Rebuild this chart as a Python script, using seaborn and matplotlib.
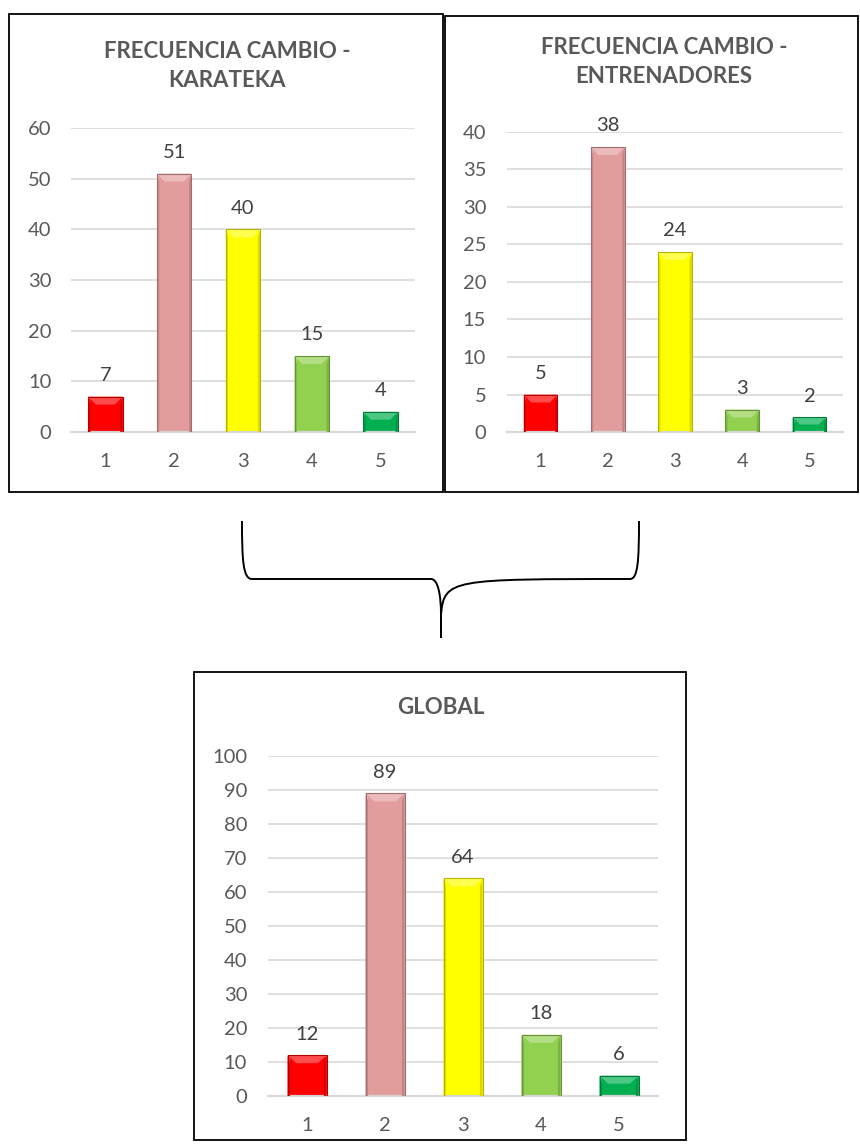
import numpy as np
import pandas as pd
import seaborn as sns
import matplotlib
matplotlib.use("Agg")
import matplotlib.pyplot as plt
from matplotlib.patches import Rectangle, Polygon, PathPatch
from matplotlib.path import Path
from matplotlib.colors import to_rgb

# Response categories and counts
categories = ["1", "2", "3", "4", "5"]
karateka = [7, 51, 40, 15, 4]
entrenadores = [5, 38, 24, 3, 2]
global_total = [12, 89, 64, 18, 6]

titles = ["FRECUENCIA CAMBIO -\nKARATEKA", "FRECUENCIA CAMBIO -\nENTRENADORES", "GLOBAL"]
y_limits = [(0, 60), (0, 40), (0, 100)]
y_steps = [10, 5, 10]

bar_colors = ["#FF0000", "#E39C9C", "#FFFF00", "#92D050", "#00B050"]
TEXT = "#595959"
GRID = "#D9D9D9"

sns.set_theme(style="white")
plt.rcParams["font.family"] = ["Lato", "DejaVu Sans"]

W, H = 860, 1148
fig = plt.figure(figsize=(W / 100, H / 100), dpi=100)

# overlay axes in pixel units for frames and the brace
over = fig.add_axes([0, 0, 1, 1], zorder=-1)
over.set_xlim(0, W)
over.set_ylim(H, 0)
over.axis("off")


def px_axes(x0, y0, x1, y1):
    return fig.add_axes([x0 / W, 1 - y1 / H, (x1 - x0) / W, (y1 - y0) / H])


def shade(c, f):
    r, g, b = to_rgb(c)
    if f >= 0:
        return (r + (1 - r) * f, g + (1 - g) * f, b + (1 - b) * f)
    return (r * (1 + f), g * (1 + f), b * (1 + f))


def bevel(ax, patch, color, ppx):
    # light top facet and darker side facets on each bar
    x, y = patch.get_x(), patch.get_y()
    w, h = patch.get_width(), patch.get_height()
    dx = w * 0.22
    dy = min(8 * ppx, h * 0.5)
    top = y + h
    ax.add_patch(Polygon([(x, top), (x + w, top), (x + w - dx, top - dy), (x + dx, top - dy)],
                         closed=True, facecolor=shade(color, 0.3), edgecolor="none", zorder=3))
    ax.add_patch(Polygon([(x, y), (x, top), (x + dx * 0.3, top - dy), (x + dx * 0.3, y)],
                         closed=True, facecolor=shade(color, -0.12), edgecolor="none", zorder=3))
    ax.add_patch(Polygon([(x + w, y), (x + w, top), (x + w - dx * 0.3, top - dy), (x + w - dx * 0.3, y)],
                         closed=True, facecolor=shade(color, -0.15), edgecolor="none", zorder=3))
    ax.add_patch(Rectangle((x, y), w, h, facecolor="none",
                           edgecolor=shade(color, -0.3), linewidth=0.8, zorder=4))


def draw_panel(rect, values, ylim, step, label_pad):
    ax = px_axes(*rect)
    df = pd.DataFrame({"cat": categories, "val": values})
    sns.barplot(data=df, x="cat", y="val", hue="cat", palette=bar_colors,
                legend=False, width=0.5, ax=ax, zorder=2, saturation=1)
    ax.set_ylim(*ylim)
    ax.set_xlim(-0.5, len(categories) - 0.5)
    ax.set_yticks(np.arange(ylim[0], ylim[1] + 1, step))
    ax.set_xlabel("")
    ax.set_ylabel("")
    for s in ["top", "right", "left"]:
        ax.spines[s].set_visible(False)
    ax.spines["bottom"].set_color(GRID)
    ax.spines["bottom"].set_linewidth(1.6)
    ax.yaxis.grid(True, color=GRID, linewidth=1.2, zorder=0)
    ax.set_axisbelow(True)
    ax.tick_params(axis="both", length=0, colors=TEXT, labelsize=14.5)
    ax.tick_params(axis="y", pad=label_pad)
    ax.tick_params(axis="x", pad=15)
    ppx = (ylim[1] - ylim[0]) / (rect[3] - rect[1])
    for patch, col in zip(ax.patches, bar_colors):
        bevel(ax, patch, col, ppx)
    for cont in ax.containers:
        ax.bar_label(cont, padding=9, color="#404040", fontsize=14.5)
    return ax


# frames around each chart
for (x0, y0, x1, y1) in [(9, 14, 443, 492), (445, 16, 858, 492), (194, 672, 686, 1140)]:
    over.add_patch(Rectangle((x0, y0), x1 - x0, y1 - y0, facecolor="white",
                             edgecolor="black", linewidth=1.3))

draw_panel((71, 128, 415, 432), karateka, y_limits[0], y_steps[0], 14)
draw_panel((507, 132, 843, 432), entrenadores, y_limits[1], y_steps[1], 15)
draw_panel((268, 756, 658, 1096), global_total, y_limits[2], y_steps[2], 15)

title_kw = dict(ha="center", va="center", fontsize=16, fontweight="bold", color=TEXT,
                linespacing=1.45)
over.text(227, 66, titles[0], **title_kw)
over.text(664, 62, titles[1], **title_kw)
over.text(441, 708, titles[2], **title_kw)

# curly brace joining the two upper charts to the global one
verts = [
    (242, 521), (242, 560), (243, 579), (252, 579),
    (431, 579),
    (438, 579), (441, 595), (441, 615),
    (441, 638),
    (441, 615), (444, 579), (451, 579),
    (630, 579),
    (638, 579), (639, 560), (639, 521),
]
codes = [Path.MOVETO, Path.CURVE4, Path.CURVE4, Path.CURVE4,
         Path.LINETO,
         Path.CURVE4, Path.CURVE4, Path.CURVE4,
         Path.LINETO,
         Path.LINETO, Path.CURVE4, Path.CURVE4,
         Path.LINETO,
         Path.CURVE4, Path.CURVE4, Path.CURVE4]
over.add_patch(PathPatch(Path(verts, codes), facecolor="none", edgecolor="black", linewidth=1.4))

fig.savefig("out.png", dpi=100)
